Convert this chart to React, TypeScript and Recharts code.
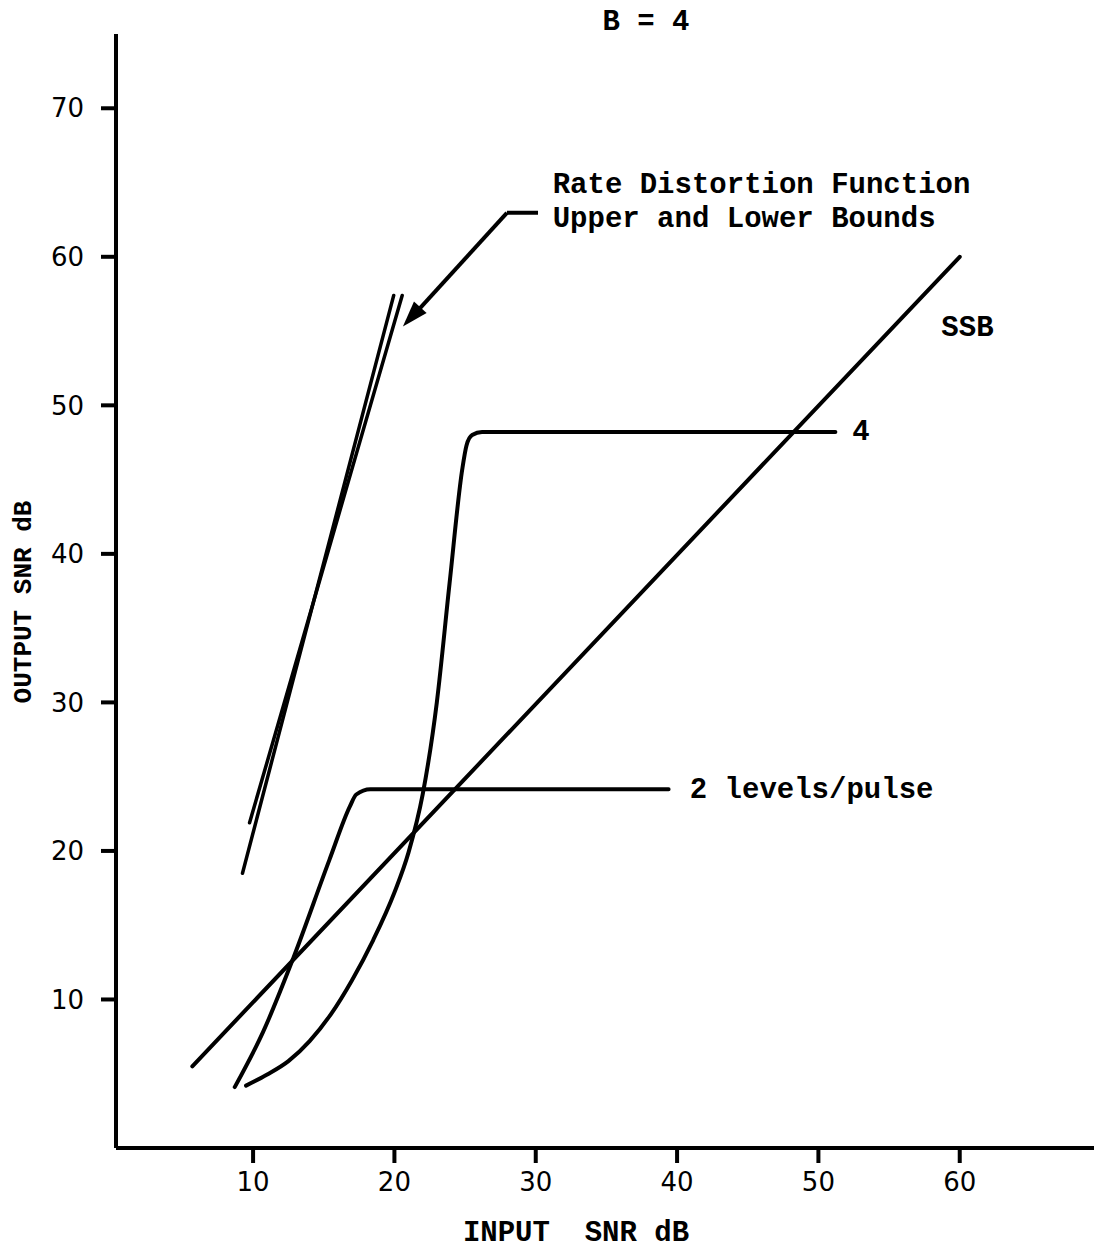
import React from "react"
import {
  LineChart,
  Line,
  XAxis,
  YAxis,
  ReferenceLine,
  ReferenceDot,
} from "recharts"

// input SNR (dB) / output SNR (dB) pairs for each curve
const ssbIn = [5.7, 60]
const ssbOut = [5.5, 60]

const twoLevelIn = [8.7, 10.7, 12.85, 15.4, 16.85, 17.3, 18.3, 39.4]
const twoLevelOut = [4.1, 7.8, 12.8, 19.4, 23.0, 23.8, 24.15, 24.15]

const fourLevelIn = [9.5, 11, 12.5, 14, 15.5, 17, 18.5, 20, 21, 22, 23, 23.9, 24.8, 25.1, 25.5, 26.2, 51.2]
const fourLevelOut = [4.2, 4.95, 5.85, 7.2, 9.0, 11.3, 14.0, 17.2, 19.9, 23.8, 30.0, 38.0, 45.7, 47.3, 48.0, 48.2, 48.2]

// rate distortion function bounds
const rdLowerIn = [9.25, 19.95]
const rdLowerOut = [18.5, 57.4]
const rdUpperIn = [9.75, 20.55]
const rdUpperOut = [21.9, 57.4]

const xTicks = [10, 20, 30, 40, 50, 60]
const yTicks = [10, 20, 30, 40, 50, 60, 70]

const zip = (xs: number[], ys: number[]) => xs.map((x, i) => ({ x, y: ys[i] }))

const INK = "#000"
const MONO = "'Liberation Mono', 'DejaVu Sans Mono', monospace"
const SANS = "'DejaVu Sans', sans-serif"

const note =
  (text: string, size = 29, anchor: "start" | "middle" | "end" = "start") =>
  (p: any) =>
    (
      <text
        x={p.cx}
        y={p.cy}
        textAnchor={anchor}
        dominantBaseline="central"
        fontFamily={MONO}
        fontWeight="bold"
        fontSize={size}
        fill={INK}
        style={{ whiteSpace: "pre" }}
      >
        {text}
      </text>
    )

// filled arrow head, tip at the dot, pointing down-left along the leader
const arrowHead = (p: any) => (
  <polygon
    points="0,0 -26,-8.5 -26,8.5"
    fill={INK}
    transform={`translate(${p.cx},${p.cy}) rotate(132)`}
  />
)

export default function App() {
  const lineProps = {
    dataKey: "y",
    stroke: INK,
    strokeWidth: 4,
    dot: false,
    activeDot: false,
    isAnimationActive: false,
    strokeLinecap: "round" as const,
    strokeLinejoin: "round" as const,
  }

  return (
    <div style={{ position: "absolute", left: 0, top: 0, background: "#fff" }}>
      <LineChart
        width={1094}
        height={1251}
        margin={{ top: 34, right: 0, left: 0, bottom: 43 }}
      >
        <XAxis
          type="number"
          dataKey="x"
          domain={[0.3, 69.5]}
          allowDataOverflow
          ticks={xTicks}
          height={60}
          axisLine={{ stroke: INK, strokeWidth: 4 }}
          tickLine={{ stroke: INK, strokeWidth: 4 }}
          tickSize={15}
          tickMargin={10}
          tick={{ fill: INK, fontSize: 26, fontFamily: SANS }}
          label={{
            content: ({ viewBox }: any) => (
              <text
                x={viewBox.x + 460}
                y={viewBox.y + 85}
                textAnchor="middle"
                dominantBaseline="central"
                fontFamily={MONO}
                fontWeight="bold"
                fontSize={29}
                fill={INK}
                style={{ whiteSpace: "pre" }}
              >
                {"INPUT  SNR dB"}
              </text>
            ),
          }}
        />
        <YAxis
          type="number"
          domain={[0, 75]}
          allowDataOverflow
          ticks={yTicks}
          width={116}
          axisLine={{ stroke: INK, strokeWidth: 4 }}
          tickLine={{ stroke: INK, strokeWidth: 4 }}
          tickSize={15}
          tickMargin={17}
          tick={{ fill: INK, fontSize: 26, fontFamily: SANS }}
          label={{
            content: ({ viewBox }: any) => (
              <text
                transform={`translate(${viewBox.x + 24},${viewBox.y + viewBox.height / 2 + 11}) rotate(-90)`}
                textAnchor="middle"
                dominantBaseline="central"
                fontFamily={MONO}
                fontWeight="bold"
                fontSize={26}
                fill={INK}
              >
                OUTPUT SNR dB
              </text>
            ),
          }}
        />

        <Line {...lineProps} data={zip(ssbIn, ssbOut)} type="linear" />
        <Line {...lineProps} data={zip(twoLevelIn, twoLevelOut)} type="monotoneX" />
        <Line {...lineProps} data={zip(fourLevelIn, fourLevelOut)} type="monotoneX" />
        <Line {...lineProps} strokeWidth={3.5} data={zip(rdLowerIn, rdLowerOut)} type="linear" />
        <Line {...lineProps} strokeWidth={3.5} data={zip(rdUpperIn, rdUpperOut)} type="linear" />

        {/* leader from the bounds caption to the rate distortion lines */}
        <ReferenceLine
          segment={[{ x: 27.96, y: 62.96 }, { x: 30.16, y: 62.96 }]}
          stroke={INK}
          strokeWidth={4}
        />
        <ReferenceLine
          segment={[{ x: 27.96, y: 62.96 }, { x: 21.2, y: 55.9 }]}
          stroke={INK}
          strokeWidth={4}
        />
        <ReferenceDot x={20.6} y={55.3} r={0} ifOverflow="visible" shape={arrowHead} />

        <ReferenceDot x={37.8} y={75.8} r={0} ifOverflow="visible" shape={note("B = 4", 29, "middle")} />
        <ReferenceDot x={31.2} y={64.8} r={0} ifOverflow="visible" shape={note("Rate Distortion Function")} />
        <ReferenceDot x={31.2} y={62.5} r={0} ifOverflow="visible" shape={note("Upper and Lower Bounds")} />
        <ReferenceDot x={58.7} y={55.2} r={0} ifOverflow="visible" shape={note("SSB")} />
        <ReferenceDot x={52.4} y={48.2} r={0} ifOverflow="visible" shape={note("4")} />
        <ReferenceDot x={40.9} y={24.1} r={0} ifOverflow="visible" shape={note("2 levels/pulse")} />
      </LineChart>
    </div>
  )
}
